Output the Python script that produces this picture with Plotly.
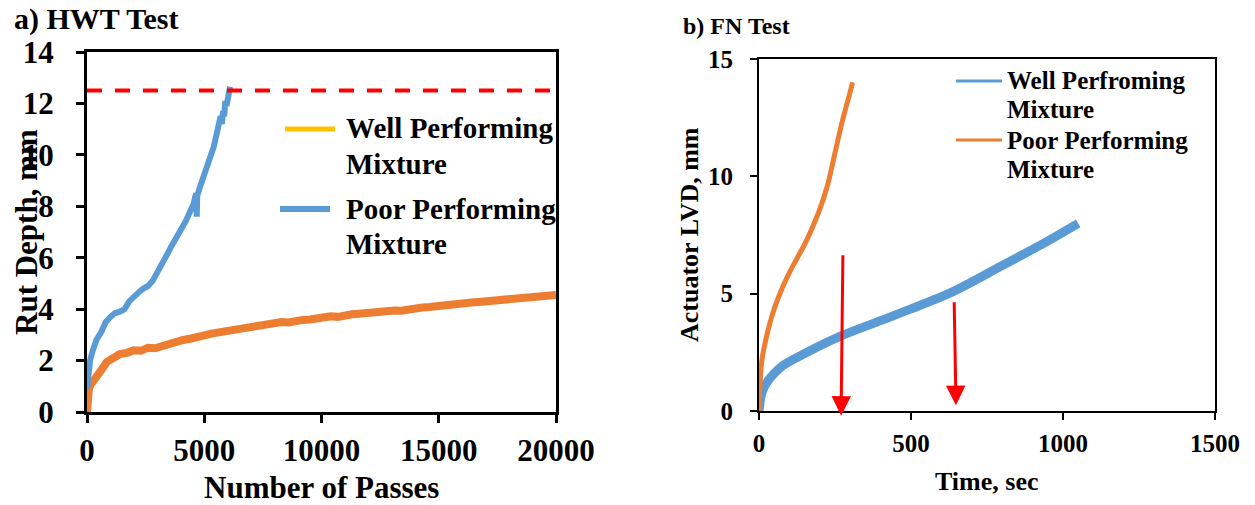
import plotly.graph_objects as go

# ---------------- data ----------------
# a) HWT test: rut depth (mm) vs number of passes
hwt_well_passes = [0, 30, 80, 150, 250, 400, 550, 700, 850, 1000, 1200, 1400, 1700, 2000,
                   2300, 2600, 2900, 3200, 3500, 3800, 4100, 4400, 4700, 5000, 5300, 5600,
                   5900, 6200, 6500, 6800, 7100, 7400, 7700, 8000, 8300, 8600, 8900, 9200,
                   9500, 9800, 10100, 10400, 10700, 11000, 11300, 11600, 11900, 12200, 12500,
                   12800, 13100, 13400, 13700, 14000, 14300, 14600, 14900, 15200, 15500,
                   15800, 16100, 16400, 16700, 17000, 17300, 17600, 17900, 18200, 18500,
                   18800, 19100, 19400, 19700, 20000]
hwt_well_rut = [0.0, 0.6, 0.9, 1.05, 1.2, 1.4, 1.55, 1.75, 1.95, 2.05, 2.15, 2.25, 2.3, 2.4,
                2.38, 2.5, 2.48, 2.58, 2.65, 2.72, 2.8, 2.85, 2.95, 2.98, 3.05, 3.1,
                3.12, 3.2, 3.25, 3.3, 3.28, 3.38, 3.42, 3.45, 3.5, 3.48, 3.56, 3.58,
                3.6, 3.66, 3.68, 3.72, 3.7, 3.78, 3.8, 3.82, 3.86, 3.85, 3.9,
                3.92, 3.95, 3.94, 4.0, 4.03, 4.06, 4.08, 4.12, 4.14, 4.18,
                4.2, 4.22, 4.26, 4.28, 4.3, 4.34, 4.35, 4.38, 4.4, 4.42,
                4.44, 4.46, 4.47, 4.5, 4.55]

hwt_poor_passes = [0, 50, 130, 250, 400, 600, 800, 1000, 1200, 1400, 1600, 1800, 2000, 2200,
                   2400, 2600, 2800, 3000, 3200, 3400, 3600, 3800, 4000, 4200, 4400, 4550,
                   4620, 4660, 4680, 4700, 4800, 4950, 5100, 5250, 5400, 5500, 5600, 5700,
                   5750, 5800, 5850, 5900, 5950, 6000, 6050, 6100]
hwt_poor_rut = [0.9, 1.3, 2.0, 2.4, 2.8, 3.1, 3.5, 3.7, 3.85, 3.9, 4.0, 4.3, 4.5, 4.65,
                4.8, 4.9, 5.1, 5.4, 5.75, 6.1, 6.45, 6.75, 7.05, 7.4, 7.8, 8.1,
                8.4, 8.5, 7.6, 8.4, 8.7, 9.1, 9.5, 9.85, 10.3, 10.7, 11.0, 11.5,
                11.2, 11.7, 11.5, 12.1, 11.9, 12.3, 12.4, 12.65]
rut_limit = 12.5
hwt_x_ticks = [0, 5000, 10000, 15000, 20000]
hwt_y_ticks = [0, 2, 4, 6, 8, 10, 12, 14]

# b) FN test: actuator LVD (mm) vs time (sec)
fn_well_time = [0, 5, 10, 25, 50, 80, 150, 270, 400, 500, 640, 800, 930, 1050]
fn_well_lvd = [0.0, 0.5, 0.8, 1.2, 1.6, 1.95, 2.45, 3.2, 3.85, 4.35, 5.1, 6.2, 7.1, 8.0]
fn_poor_time = [0, 5, 10, 20, 35, 50, 75, 100, 125, 150, 175, 200, 225, 250, 275, 300, 308]
fn_poor_lvd = [0.0, 1.5, 2.2, 2.9, 3.7, 4.35, 5.2, 5.9, 6.5, 7.1, 7.8, 8.6, 9.6, 11.0,
               12.4, 13.6, 14.0]
fn_arrow_tail_time = [276, 642]
fn_arrow_tail_lvd = [6.7, 4.7]
fn_arrow_tip_time = [270, 648]
fn_arrow_tip_lvd = [-0.2, 0.25]
fn_x_ticks = [0, 500, 1000, 1500]
fn_y_ticks = [0, 5, 10, 15]

# ---------------- styling ----------------
W, H = 1255, 505
ORANGE = "#ED7D31"
BLUE = "#5B9BD5"
YELLOW = "#FFC000"
RED = "#FF0000"
FONT = "Liberation Serif, Times New Roman, serif"


def fx(p):
    return p / W


def fy(p):
    return 1 - p / H


fig = go.Figure()

# left panel
fig.add_trace(go.Scatter(x=hwt_well_passes, y=hwt_well_rut, mode="lines",
                         line=dict(color=ORANGE, width=8), xaxis="x", yaxis="y"))
fig.add_trace(go.Scatter(x=hwt_poor_passes, y=hwt_poor_rut, mode="lines",
                         line=dict(color=BLUE, width=6), xaxis="x", yaxis="y"))
fig.add_trace(go.Scatter(x=[hwt_x_ticks[0], hwt_x_ticks[-1]], y=[rut_limit, rut_limit],
                         mode="lines", line=dict(color=RED, width=4, dash="15px,13px"),
                         xaxis="x", yaxis="y"))

# right panel
fig.add_trace(go.Scatter(x=fn_well_time, y=fn_well_lvd, mode="lines",
                         line=dict(color=BLUE, width=9, shape="spline"), xaxis="x2", yaxis="y2"))
fig.add_trace(go.Scatter(x=fn_poor_time, y=fn_poor_lvd, mode="lines",
                         line=dict(color=ORANGE, width=5, shape="spline"), xaxis="x2", yaxis="y2"))

axis_common = dict(showline=True, mirror=True, linecolor="black", showgrid=False,
                   zeroline=False, ticks="outside", tickcolor="black", automargin=False)

fig.update_layout(
    template="none",
    width=W, height=H, margin=dict(l=0, r=0, t=0, b=0, autoexpand=False),
    paper_bgcolor="white", plot_bgcolor="white", showlegend=False,
    xaxis=dict(domain=[fx(87), fx(556)], range=[0, 20000], tickvals=hwt_x_ticks,
               tickformat="d", linewidth=3, tickwidth=3, ticklen=8, anchor="y",
               ticklabelstandoff=1,
               tickfont=dict(family=FONT, size=31, color="black", weight="bold"),
               **axis_common),
    yaxis=dict(domain=[fy(412), fy(52)], range=[0, 14], tickvals=hwt_y_ticks,
               linewidth=3, tickwidth=3, ticklen=8, anchor="x",
               ticklabelstandoff=16,
               tickfont=dict(family=FONT, size=31, color="black", weight="bold"),
               **axis_common),
    xaxis2=dict(domain=[fx(759), fx(1215)], range=[0, 1500], tickvals=fn_x_ticks,
                tickformat="d", linewidth=2, tickwidth=2, ticklen=7, anchor="y2",
                ticklabelstandoff=2,
                tickfont=dict(family=FONT, size=25, color="black", weight="bold"),
                **axis_common),
    yaxis2=dict(domain=[fy(411), fy(59)], range=[0, 15], tickvals=fn_y_ticks,
                linewidth=2, tickwidth=2, ticklen=7, anchor="x2",
                ticklabelstandoff=12,
                tickfont=dict(family=FONT, size=25, color="black", weight="bold"),
                **axis_common),
)

annotations = []


def txt(x, y, s, size, xanchor="left", angle=0):
    annotations.append(dict(x=fx(x), y=fy(y), xref="paper", yref="paper", text=s,
                            showarrow=False, xanchor=xanchor, yanchor="middle",
                            textangle=angle,
                            font=dict(family=FONT, size=size, color="black", weight="bold")))


# titles
txt(12, 19, "a) HWT Test", 30)
txt(681, 26, "b) FN Test", 24)
txt(321, 487, "Number of Passes", 31, xanchor="center")
txt(27, 232, "Rut Depth, mm", 31, xanchor="center", angle=-90)
txt(987, 481, "Time, sec", 26, xanchor="center")
txt(690, 235, "Actuator LVD, mm", 26, xanchor="center", angle=-90)

# legend texts
txt(344, 128, "Well Performing", 29)
txt(344, 164, "Mixture", 29)
txt(344, 209, "Poor Performing", 29)
txt(344, 244, "Mixture", 29)
txt(1005, 80, "Well Perfroming", 25)
txt(1005, 110, "Mixture", 25)
txt(1005, 140, "Poor Performing", 25)
txt(1005, 169, "Mixture", 25)

# red arrows in the FN panel
for tx, ty, hx, hy in zip(fn_arrow_tail_time, fn_arrow_tail_lvd, fn_arrow_tip_time, fn_arrow_tip_lvd):
    annotations.append(dict(x=hx, y=hy, ax=tx, ay=ty, xref="x2", yref="y2", axref="x2",
                            ayref="y2", text="", showarrow=True, arrowhead=2, arrowsize=1.3,
                            arrowwidth=3, arrowcolor=RED, standoff=0))

fig.update_layout(annotations=annotations)

# legend samples
shapes = [
    dict(type="line", xref="paper", yref="paper", x0=fx(285), x1=fx(335), y0=fy(129), y1=fy(129),
         line=dict(color=YELLOW, width=5)),
    dict(type="line", xref="paper", yref="paper", x0=fx(280), x1=fx(330), y0=fy(209), y1=fy(209),
         line=dict(color=BLUE, width=6)),
    dict(type="line", xref="paper", yref="paper", x0=fx(956), x1=fx(1002), y0=fy(81), y1=fy(81),
         line=dict(color=BLUE, width=3)),
    dict(type="line", xref="paper", yref="paper", x0=fx(956), x1=fx(1002), y0=fy(140), y1=fy(140),
         line=dict(color=ORANGE, width=3)),
]
fig.update_layout(shapes=shapes)

fig.write_html("out.html")
